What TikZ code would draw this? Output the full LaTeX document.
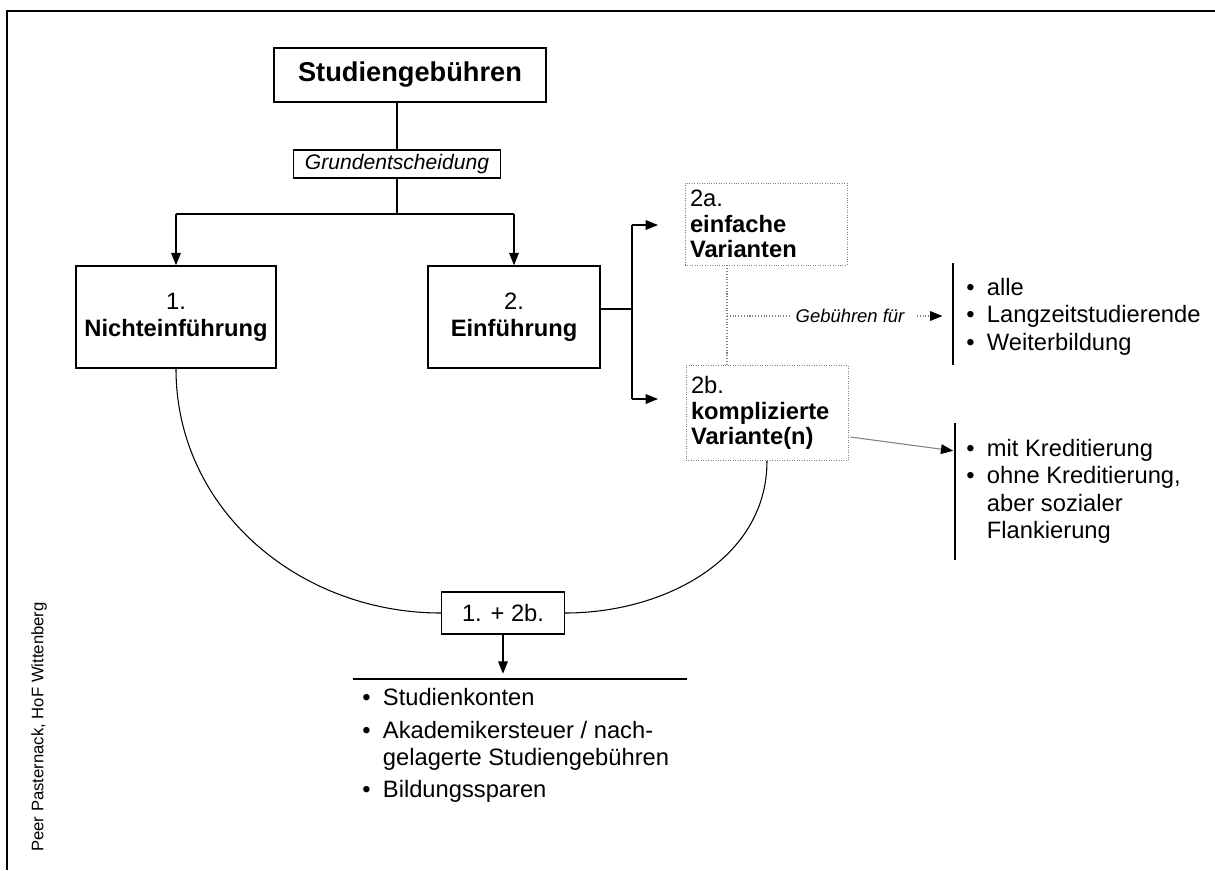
\documentclass[tikz,border=0pt]{standalone}
\usepackage{fontspec}
\setmainfont{Liberation Sans}
\usetikzlibrary{arrows.meta,positioning,calc}
\newcommand\pkt{\textbullet\hspace{7pt}}

\begin{document}
\begin{tikzpicture}
[x=0.02cm, y=-0.02cm,
every node/.style = {inner sep=0pt, align=center},
txt/.style = {font=\fontsize{13.5}{15.5}\selectfont},
kasten/.style = {txt, draw, line width=.9pt},
variante/.style = {font=\fontsize{13.5}{14.5}\selectfont, draw=gray, densely dotted,
	align=left, text width=3.04cm, inner xsep=.1cm},
liste/.style = {txt, align=left, anchor=north west},
pfeil/.style = {-{Triangle[length=7pt,width=5.5pt,color=black]}, line width=.6pt},
punkte/.style = {gray, densely dotted, line width=.6pt},
]
\useasboundingbox (0,0) rectangle (1215,870);
\draw[line width=1.3pt] (1215,11) -- (7,11) -- (7,870);

\node[kasten, line width=1.3pt, minimum width=5.44cm, minimum height=1.08cm,
	font=\fontsize{15.5}{18}\selectfont\bfseries] (titel) at (410,75) {Studiengebühren};
\node[draw, line width=.6pt, minimum width=4.14cm, minimum height=.56cm,
	font=\fontsize{12}{14}\selectfont\itshape] (grund) at (397,164) {Grundentscheidung};
\node[kasten, minimum width=4cm, minimum height=2.04cm] (nein) at (176,317)
	{1.\\\textbf{Nichteinführung}};
\node[kasten, minimum width=3.44cm, minimum height=2.04cm] (ja) at (514,317)
	{2.\\\textbf{Einführung}};
\node[variante, minimum height=1.64cm] (va) at (766,224)
	{2a.\\\textbf{einfache}\\\textbf{Varianten}};
\node[variante, minimum height=1.9cm] (vb) at (767,413)
	{2b.\\\textbf{komplizierte}\\\textbf{Variante(n)}};
\node[kasten, line width=.8pt, minimum width=2.46cm, minimum height=.84cm] (beide) at (503,613)
	{1. + 2b.};
\node[font=\fontsize{10.5}{12}\selectfont\itshape] (fuer) at (850,316) {Gebühren für};

\node[liste] (listeA) at (966,278)
	{\pkt alle\\\pkt Langzeitstudierende\\\pkt Weiterbildung};
\node[liste] (listeB) at (966,439)
	{\pkt mit Kreditierung\\\pkt ohne Kreditierung,\\\hphantom{\pkt}aber sozialer\\\hphantom{\pkt}Flankierung};
\node[liste] (listeC) at (362,688)
	{\pkt Studienkonten\\[3pt]\pkt Akademikersteuer / nach-\\\hphantom{\pkt}gelagerte Studiengebühren\\[3pt]\pkt Bildungssparen};

\node[rotate=90, font=\fontsize{9.5}{11}\selectfont] (autor) at (39,727) {Peer Pasternack, HoF Wittenberg};

\coordinate (gabel) at (397,214);
\coordinate (zweig) at (632,309);
\coordinate (spitzeA) at (658,225);
\coordinate (spitzeB) at (658,399);
\coordinate (teil) at (727,316);
\coordinate (barA) at (953,316);
\coordinate (barB) at (955,451);
\coordinate (linksC) at (353,679);
\coordinate (rechtsC) at (687,679);

\draw[line width=.6pt] (grund.north |- titel.south) -- (grund.north);
\draw[line width=.6pt] (grund.south) -- (gabel);
\draw[line width=.6pt] (nein.north |- gabel) -- (ja.north |- gabel);
\draw[pfeil] (nein.north |- gabel) -- (nein.north);
\draw[pfeil] (ja.north |- gabel) -- (ja.north);

\draw[line width=.6pt] (ja.east |- zweig) -- (zweig);
\draw[line width=.6pt] (zweig |- spitzeA) -- (zweig |- spitzeB);
\draw[pfeil] (zweig |- spitzeA) -- (spitzeA);
\draw[pfeil] (zweig |- spitzeB) -- (spitzeB);

\draw[punkte] (teil |- va.south) -- (teil |- vb.north);
\draw[punkte, shorten >=3pt] (teil) -- (fuer.west);
\draw[punkte, pfeil, gray, shorten <=7pt, shorten >=6pt] (fuer.east) -- (barA);
\draw[line width=1pt] (barA |- 0,263) -- (barA |- 0,365);

\draw[gray, pfeil, shorten >=1pt] ($(vb.east)+(2,24)$) -- (barB);
\draw[line width=1pt] (barB |- 0,423) -- (barB |- 0,560);

\draw[line width=.6pt] (nein.south) to[out=-90, in=180] (beide.west);
\draw[line width=.6pt] (vb.south) to[out=-90, in=0] (beide.east);

\draw[line width=.8pt] (linksC) -- (rechtsC);
\draw[pfeil, shorten >=3pt] (beide.south) -- (beide.south |- linksC);
\end{tikzpicture}
\end{document}
